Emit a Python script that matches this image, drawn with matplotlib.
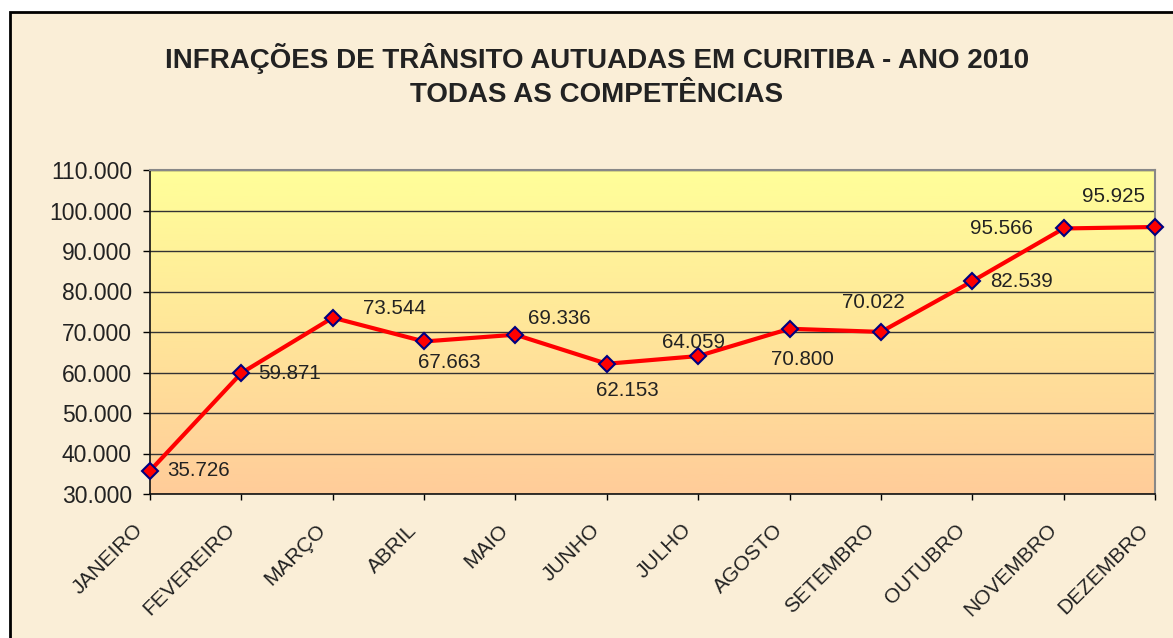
import numpy as np
import matplotlib
matplotlib.use('Agg')
import matplotlib.pyplot as plt
from matplotlib.patches import Rectangle
from matplotlib.ticker import FuncFormatter
from matplotlib.colors import LinearSegmentedColormap
import matplotlib.transforms as mtransforms

plt.rcParams['font.family'] = ['Liberation Sans', 'DejaVu Sans']

MONTHS = ['JANEIRO', 'FEVEREIRO', 'MARÇO', 'ABRIL', 'MAIO', 'JUNHO',
          'JULHO', 'AGOSTO', 'SETEMBRO', 'OUTUBRO', 'NOVEMBRO', 'DEZEMBRO']
INFRACOES = [35726, 59871, 73544, 67663, 69336, 62153,
             64059, 70800, 70022, 82539, 95566, 95925]
# label offsets in pixels (dx to left edge of text, dy to text centre)
LABEL_OFFSETS = [(17, 0), (17, 0), (30, 9), (-6, -21), (13, 16), (-11, -27),
                 (-36, 14), (-19, -31), (-39, 29), (18, 0), (-94, 0), (-73, 31)]
TITLE = 'INFRAÇÕES DE TRÂNSITO AUTUADAS EM CURITIBA - ANO 2010\nTODAS AS COMPETÊNCIAS'

W, H = 1173, 638
DPI = 100
fig = plt.figure(figsize=(W / DPI, H / DPI), dpi=DPI)
fig.patch.set_facecolor('white')

# parchment-like panel with black frame
fig.patches.append(Rectangle((10 / W, -0.1), 1.0, 1.1 - 12 / H, transform=fig.transFigure,
                             facecolor='#FAEED7', edgecolor='black', linewidth=2, zorder=-10))

ax = fig.add_axes([150 / W, 1 - 494 / H, 1005 / W, 324 / H])
ax.set_facecolor('none')

# vertical gradient yellow -> peach
grad = np.linspace(0, 1, 256).reshape(-1, 1)
cmap = LinearSegmentedColormap.from_list('g', ['#FFFF99', '#FFCC99'])
ax.imshow(grad, aspect='auto', cmap=cmap, extent=[0, 1, 0, 1],
          transform=ax.transAxes, zorder=0)

x = np.arange(len(MONTHS))
ax.set_xlim(0, len(MONTHS) - 1)
ax.set_ylim(30000, 110000)
ax.set_yticks(np.arange(30000, 110001, 10000))
ax.yaxis.set_major_formatter(FuncFormatter(lambda v, p: f'{int(v):,}'.replace(',', '.')))
ax.grid(axis='y', color='#333333', linewidth=1, zorder=1)

ax.plot(x, INFRACOES, color='#FF0000', linewidth=3, marker='D', markersize=8,
        markerfacecolor='#FF0000', markeredgecolor='#000080', markeredgewidth=1.5,
        zorder=3, clip_on=False)

for xi, v, (dx, dy) in zip(x, INFRACOES, LABEL_OFFSETS):
    ax.annotate(f'{v:,}'.replace(',', '.'), (xi, v), xytext=(dx, dy),
                textcoords='offset pixels', ha='left', va='center',
                fontsize=14.8, color='#222222', zorder=4)

# month labels: rotated, ending a little left of and below each tick
ax.set_xticks(x)
ax.set_xticklabels([])
shift = mtransforms.ScaledTranslation(-10 / DPI, -33 / DPI, fig.dpi_scale_trans)
for xi, m in zip(x, MONTHS):
    ax.text(xi, 0, m, transform=ax.get_xaxis_transform() + shift, rotation=45,
            rotation_mode='anchor', ha='right', va='center', fontsize=15,
            color='#222222', clip_on=False)

ax.tick_params(axis='y', labelsize=16.5, labelcolor='#222222', length=5, width=1, pad=8)
ax.tick_params(axis='x', length=4.5, width=1, direction='out')

for side in ['left', 'bottom']:
    ax.spines[side].set_color('#111111')
    ax.spines[side].set_linewidth(1.2)
for side in ['top', 'right']:
    ax.spines[side].set_color('#888888')
    ax.spines[side].set_linewidth(1.5)

fig.text(597 / W, 1 - 75.5 / H, TITLE, ha='center', va='center', fontsize=20,
         fontweight='bold', color='#222222', linespacing=1.35)

fig.savefig('out.png', dpi=DPI)
